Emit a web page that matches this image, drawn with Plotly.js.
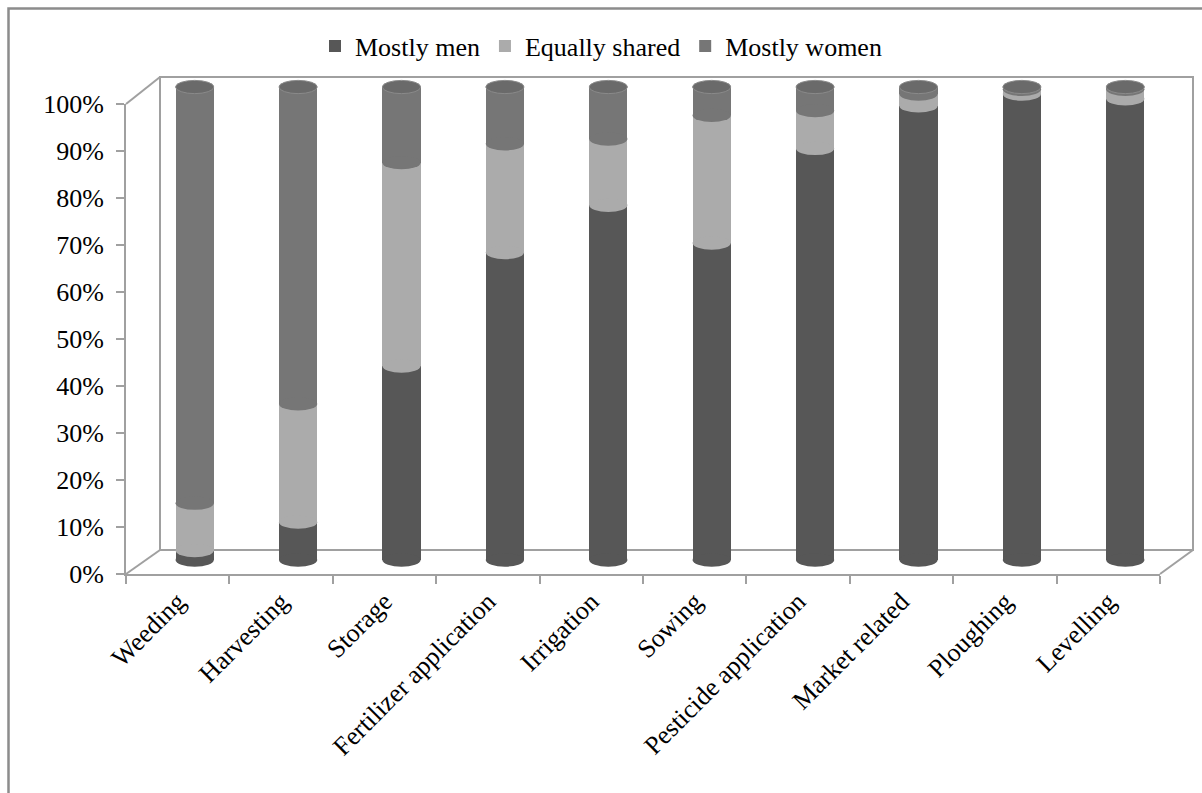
<!DOCTYPE html>
<html>
<head>
<meta charset="utf-8">
<script src="https://cdn.plot.ly/plotly-3.0.1.min.js"></script>
<style>html,body{margin:0;padding:0;background:#fff;}#chart{width:1202px;height:793px;}</style>
</head>
<body>
<div id="chart"></div>
<script>
// ---- data (percent of respondents) ----
const categories = ["Weeding","Harvesting","Storage","Fertilizer application","Irrigation","Sowing","Pesticide application","Market related","Ploughing","Levelling"];
const mostlyMen     = [2, 8, 41, 65, 75, 67, 87, 96, 98.5, 97.5];
const equallyShared = [10, 25, 43, 23, 14, 27, 8, 2.5, 1, 2];
const mostlyWomen   = [88, 67, 16, 12, 11, 6, 5, 1.5, 0.5, 0.5];
const yTickValues = [0,10,20,30,40,50,60,70,80,90,100];

const seriesNames = ["Mostly men","Equally shared","Mostly women"];
const seriesData = [mostlyMen, equallyShared, mostlyWomen];
const seriesColors = ["#575757","#ababab","#767676"];
const capColors = ["#4a4a4a","#b5b5b5","#6a6a6a"];

// ---- geometry of the pseudo-3D frame (pixels) ----
const W = 1202, H = 793;
const L = 126, R = 1193, T = 60, B = 574;          // overall plot area
const pw = R - L, ph = B - T;
const backTop = 77, backDx = 34, backDy = 24;
const frontRight = 1160, frontTop = 104;           // front axes box
const depth = 17;                                   // half-depth offset for cylinders
const barTop = 87, barBottom = 560;
const pad = 2.8;                                    // data-units of room for the caps
const k = (barBottom - barTop) / 100;

const xFront = [0, (frontRight - L) / pw];
const yFront = [0, (B - frontTop) / ph];
const xBars = [depth / pw, (frontRight - L + depth) / pw];
const yBars = [(B - (barBottom + pad * k)) / ph, (B - (barTop - pad * k)) / ph];

const barWidth = 0.37;
const traces = seriesNames.map((n, i) => ({
  type: "bar",
  name: n,
  x: categories,
  y: seriesData[i],
  xaxis: "x2",
  yaxis: "y2",
  width: barWidth,
  marker: {color: seriesColors[i], line: {width: 0}},
  hoverinfo: "x+y+name"
}));
// empty trace so that the front (labelled) axes are drawn
traces.push({type:"scatter", x:[], y:[], xaxis:"x", yaxis:"y", showlegend:false, hoverinfo:"skip"});

// cylinder caps: ellipses at each segment boundary, computed from the data
const capH = 1.4;
const shapes = [];
const lineCol = "#a0a0a0";
const px = (x) => (x - L) / pw;
const py = (y) => (B - y) / ph;
// back wall and perspective lines (frame decoration)
shapes.push({type:"rect", xref:"paper", yref:"paper", x0:px(L+backDx), x1:px(R), y0:py(B-backDy), y1:py(backTop), line:{color:lineCol, width:2}, layer:"below"});
shapes.push({type:"line", xref:"paper", yref:"paper", x0:px(L), y0:py(frontTop), x1:px(L+backDx), y1:py(backTop), line:{color:lineCol, width:2}, layer:"below"});
shapes.push({type:"line", xref:"paper", yref:"paper", x0:px(L), y0:py(B), x1:px(L+backDx), y1:py(B-backDy), line:{color:lineCol, width:2}, layer:"below"});
shapes.push({type:"line", xref:"paper", yref:"paper", x0:px(frontRight), y0:py(B), x1:px(R), y1:py(B-backDy), line:{color:lineCol, width:2}, layer:"below"});
// outer chart border
shapes.push({type:"rect", xref:"paper", yref:"paper", x0:px(8.5), x1:px(W+20), y0:py(H+20), y1:py(8.5), line:{color:"#8c8c8c", width:2.5}, layer:"below"});

categories.forEach((c, i) => {
  let cum = 0;
  const first = seriesData.findIndex(s => s[i] > 0);
  shapes.push({type:"circle", xref:"x2", yref:"y2", x0:i - barWidth/2, x1:i + barWidth/2, y0:-capH, y1:capH, fillcolor:seriesColors[first], line:{width:0}});
  let last = first;
  seriesData.forEach((s, j) => {
    if (j > 0 && s[i] > 0) {
      shapes.push({type:"circle", xref:"x2", yref:"y2", x0:i - barWidth/2, x1:i + barWidth/2, y0:cum - capH, y1:cum + capH, fillcolor:seriesColors[j], line:{width:0}});
    }
    if (s[i] > 0) last = j;
    cum += s[i];
  });
  shapes.push({type:"circle", xref:"x2", yref:"y2", x0:i - barWidth/2, x1:i + barWidth/2, y0:cum - capH, y1:cum + capH, fillcolor:capColors[last], line:{color:"#8a8a8a", width:1}});
});

const font = {family:"'Liberation Serif', 'Times New Roman', serif", color:"#000"};

const layout = {
  width: W, height: H,
  margin: {l: L, r: W - R, t: T, b: H - B, pad: 0, autoexpand: false},
  paper_bgcolor: "#fff", plot_bgcolor: "rgba(0,0,0,0)",
  barmode: "stack",
  showlegend: true,
  legend: {orientation:"h", xref:"container", yref:"container", x:0.5, y:1 - 46/H, xanchor:"center", yanchor:"middle",
           font:Object.assign({size:26}, font), itemwidth:30, traceorder:"normal"},
  xaxis: {domain:xFront, type:"linear", range:[-0.5, categories.length - 0.5], tickmode:"array",
          tickvals: categories.map((c,i)=>i), ticktext: categories, tickangle:-45, ticks:"",
          minor:{tickmode:"array", tickvals: categories.map((c,i)=>i-0.5).concat([categories.length-0.5]), ticks:"outside", ticklen:8, tickcolor:lineCol, tickwidth:2, showgrid:false},
          showline:true, linecolor:lineCol, linewidth:2, showgrid:false, zeroline:false, anchor:"y",
          tickfont:Object.assign({size:26}, font), fixedrange:true, automargin:false},
  yaxis: {domain:yFront, range:[0,100], tickmode:"array", tickvals:yTickValues, ticktext:yTickValues.map(v=>v+"%"),
          ticks:"outside", ticklen:8, tickcolor:lineCol, tickwidth:2, showline:true, linecolor:lineCol, linewidth:2,
          showgrid:false, zeroline:false, anchor:"x", ticklabelstandoff:7, tickfont:Object.assign({size:26}, font), fixedrange:true, automargin:false},
  xaxis2: {domain:xBars, range:[-0.5, categories.length - 0.5], type:"category", categoryarray:categories, categoryorder:"array",
           showticklabels:false, ticks:"", showline:false, showgrid:false, zeroline:false, anchor:"y2", fixedrange:true},
  yaxis2: {domain:yBars, range:[-pad, 100 + pad], showticklabels:false, ticks:"", showline:false, showgrid:false, zeroline:false, anchor:"x2", fixedrange:true},
  shapes: shapes
};

Plotly.newPlot("chart", traces, layout, {displayModeBar:false, staticPlot:true});
</script>
</body>
</html>
